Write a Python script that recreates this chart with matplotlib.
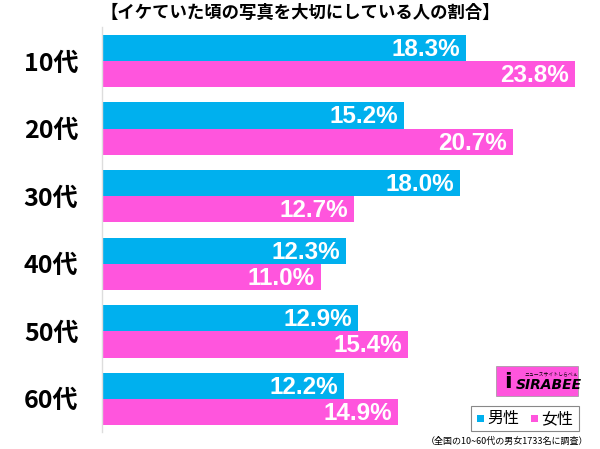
import matplotlib.pyplot as plt
from matplotlib.patches import Rectangle

plt.rcParams['font.family'] = ['Noto Sans CJK JP', 'DejaVu Sans']

# Data
ages = ['10代', '20代', '30代', '40代', '50代', '60代']
male = [18.3, 15.2, 18.0, 12.3, 12.9, 12.2]
female = [23.8, 20.7, 12.7, 11.0, 15.4, 14.9]
title = '【イケていた頃の写真を大切にしている人の割合】'
note = '（全国の10~60代の男女1733名に調査）'

blue = '#00B0EE'
pink = '#FF55DD'

W, H = 600, 449
fig = plt.figure(figsize=(6, 4.49), dpi=100)

# axes: x from 102px to 600px, y from 27px to 432px
ax = fig.add_axes([102 / W, 1 - 432 / H, (600 - 102) / W, (432 - 27) / H])
row = 67.4
ax.set_xlim(0, (600 - 102) / 19.87)
ax.set_ylim(5 + (432 - 399) / row, -(61 - 27) / row)

h = 26.2 / row
ys = list(range(len(ages)))
ax.barh([y - h / 2 for y in ys], male, height=h, color=blue)
ax.barh([y + h / 2 for y in ys], female, height=h, color=pink)

for y, m, f in zip(ys, male, female):
    ax.text(m - 0.3, y - h / 2 + 0.02, f'{m:.1f}%', ha='right', va='center',
            color='white', fontsize=17.5, fontweight='bold', family='Liberation Sans')
    ax.text(f - 0.3, y + h / 2 + 0.02, f'{f:.1f}%', ha='right', va='center',
            color='white', fontsize=17.5, fontweight='bold', family='Liberation Sans')

ax.set_yticks(ys)
ax.set_yticklabels(ages, fontsize=18, fontweight='bold')
ax.tick_params(axis='y', length=0, pad=17)
ax.set_xticks([])
for s in ['top', 'right', 'bottom']:
    ax.spines[s].set_visible(False)
ax.spines['left'].set_color('#dddddd')
ax.spines['left'].set_linewidth(1)

fig.text(300 / W, 1 - 13 / H, title, ha='center', va='center',
         fontsize=12.5, fontweight='bold')

# logo
fig.patches.append(Rectangle((496 / W, 1 - 396 / H), (578 - 496) / W, (396 - 366) / H,
                             transform=fig.transFigure, facecolor=pink,
                             edgecolor='#999999', linewidth=0.5))
fig.text(549 / W, 1 - 385 / H, 'SIRABEE', ha='center', va='center',
         fontsize=10, fontweight='bold', style='italic', color='black',
         family='DejaVu Sans')
fig.text(508 / W, 1 - 382 / H, 'i', ha='center', va='center',
         fontsize=16, fontweight='bold', color='black', family='DejaVu Sans')
fig.text(551 / W, 1 - 374 / H, 'ニュースサイトしらべぇ', ha='center', va='center',
         fontsize=3.5, color='black')

# legend box
fig.patches.append(Rectangle((471 / W, 1 - 431 / H), (579 - 471) / W, (431 - 406) / H,
                             transform=fig.transFigure, facecolor='white',
                             edgecolor='#888888', linewidth=0.8))
fig.patches.append(Rectangle((477 / W, 1 - 422 / H), 7 / W, 7 / H,
                             transform=fig.transFigure, facecolor=blue))
fig.text(487 / W, 1 - 418.5 / H, '男性', ha='left', va='center', fontsize=11.5)
fig.patches.append(Rectangle((531 / W, 1 - 422 / H), 7 / W, 7 / H,
                             transform=fig.transFigure, facecolor=pink))
fig.text(541 / W, 1 - 418.5 / H, '女性', ha='left', va='center', fontsize=11.5)

fig.text(588 / W, 1 - 441 / H, note, ha='right', va='center', fontsize=6.5)

fig.savefig('out.png', dpi=100, facecolor='white')
